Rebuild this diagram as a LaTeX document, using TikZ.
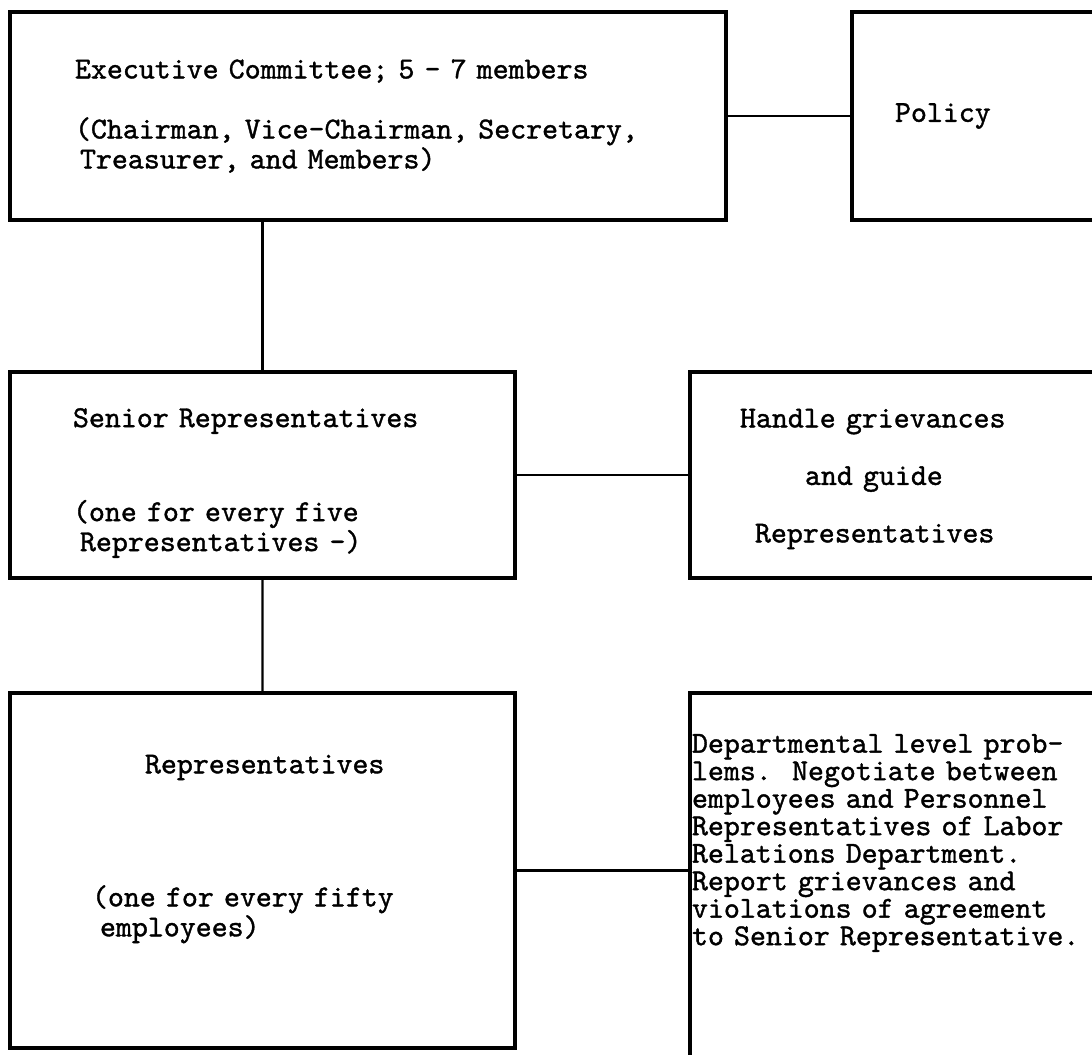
\documentclass[tikz,border=0pt]{standalone}
\usepackage{fontspec}
\usepackage{tikz}
\usetikzlibrary{positioning}

\newfontfamily\typewriter{lmmono10-regular.otf}[FakeBold=1.2]
\newcommand{\typefont}{\fontsize{17.3pt}{17.07pt}\selectfont\typewriter}
\newcommand{\typefontsingle}{\fontsize{17.3pt}{15.65pt}\selectfont\typewriter}

\tikzset{
  unit/.style={
    rectangle, draw=black, line width=2.2pt, align=left,
    inner ysep=0pt, outer sep=0pt, font=\typefont, text=black
  },
  link/.style={line width=1.3pt, color=black}
}

\begin{document}
\begin{tikzpicture}
  \path[use as bounding box, fill=white] (0,0) rectangle (21.84,-21.1);

  % Executive level
  \node[unit, anchor=north west, minimum height=4.16cm,
        text width=11.72cm, inner xsep=1.3cm] (exec) at (0.2,-0.24)
    {Executive Committee; 5 - 7 members\\[0.6cm]
     (Chairman, Vice-Chairman, Secretary,\\
     \hspace*{0.1cm}Treasurer, and Members)};
  \node[unit, right=2.52cm of exec, minimum height=4.16cm,
        text width=3.48cm, inner xsep=0.86cm] (policy)
    {Policy};

  \draw[link] (exec.east) -- (policy.west);

  % Senior level
  \node[unit, below right=3.04cm and 0cm of exec.south west,
        minimum height=4.12cm, text width=7.58cm, inner xsep=1.26cm] (senior)
    {Senior Representatives\\[1.28cm]
     (one for every five\\
     \hspace*{0.14cm}Representatives -)\par\vspace*{-0.32cm}};
  \node[unit, right=3.5cm of senior, minimum height=4.12cm,
        text width=6.4cm, inner xsep=1cm] (handle)
    {Handle grievances\\[0.55cm]
     \hspace*{1.3cm}and guide\\[0.55cm]
     \hspace*{0.3cm}Representatives\par\vspace*{-0.16cm}};

  \draw[link] (senior.north) -- (senior.north |- exec.south);
  \draw[link] (senior.east) -- (handle.west);

  % Department level
  \node[unit, below right=2.3cm and 0cm of senior.south west,
        minimum height=7.1cm, text width=6.82cm, inner xsep=1.64cm] (reps)
    {\hspace*{1.06cm}Representatives\\[2.06cm]
     (one for every fifty\\
     \hspace*{0.16cm}employees)\par\vspace*{0.86cm}};
  \node[unit, below right=0cm and 3.5cm of reps.north east,
        minimum height=7.4cm, text width=8.32cm, inner xsep=0.04cm,
        font=\typefontsingle] (dept)
    {Departmental level prob-\\
     lems.\ \ Negotiate between\\
     employees and Personnel\\
     Representatives of Labor\\
     Relations Department.\\
     Report grievances and\\
     violations of agreement\\
     to Senior Representative.\par\vspace*{1.4cm}};

  \draw[link] (reps.north) -- (senior.south);
  \draw[link] (reps.east) -- (reps.east -| dept.west);
\end{tikzpicture}
\end{document}
